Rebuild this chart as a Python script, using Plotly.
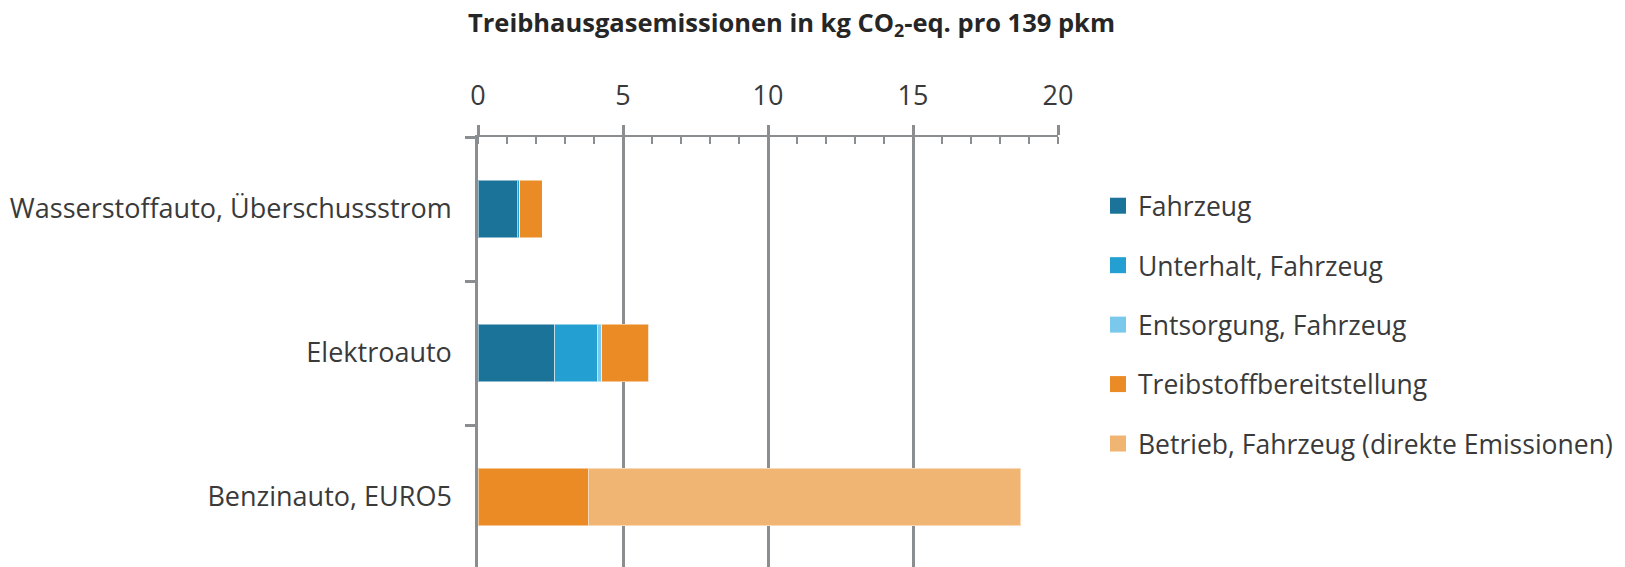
import plotly.graph_objects as go

categories = ["Wasserstoffauto, Überschussstrom", "Elektroauto", "Benzinauto, EURO5"]
series_names = ["Fahrzeug", "Unterhalt, Fahrzeug", "Entsorgung, Fahrzeug",
                "Treibstoffbereitstellung", "Betrieb, Fahrzeug (direkte Emissionen)"]
fahrzeug = [1.36, 2.65, 0.0]
unterhalt = [0.07, 1.47, 0.0]
entsorgung = [0.01, 0.15, 0.0]
treibstoff = [0.78, 1.61, 3.80]
betrieb = [0.0, 0.0, 14.91]
colors = ["#1b7399", "#249fd1", "#7ac9ec", "#eb8b25", "#f0b573"]
x_ticks = [0, 5, 10, 15, 20]

values = [fahrzeug, unterhalt, entsorgung, treibstoff, betrieb]

FONT = "Open Sans"
TXT = "#3a3a3a"
AX = "#8b8e91"

# the page body has a default 8px margin; compensate so the figure fills the window
OFF = 8
W, H = 1625 - OFF, 567 - OFF
L, T = 478 - OFF, 137 - OFF
PW = 580

fig = go.Figure()
for name, vals, col in zip(series_names, values, colors):
    fig.add_trace(go.Bar(
        y=categories, x=vals, name=name, orientation="h",
        marker=dict(color=col, line=dict(color="rgba(255,255,255,0.5)", width=1)),
        width=0.40, showlegend=False, legendgroup=name,
    ))
for name, col in zip(series_names, colors):
    fig.add_trace(go.Scatter(
        x=[None], y=[None], mode="markers", name=name, legendgroup=name,
        marker=dict(symbol="square", size=16, color=col), showlegend=True,
    ))

fig.update_layout(
    barmode="stack",
    width=W, height=H,
    margin=dict(l=L, r=W - L - PW, t=T, b=0, pad=0, autoexpand=False),
    paper_bgcolor="white", plot_bgcolor="white",
    font=dict(family=FONT, size=27, color=TXT),
    title=dict(
        text="<b>Treibhausgasemissionen in kg CO<sub>2</sub>-eq. pro 139 pkm</b>",
        x=(468 - OFF) / W, xanchor="left", y=1 - (23 - OFF) / H, yanchor="middle",
        font=dict(family=FONT, size=25.5, color="#262626"),
    ),
    legend=dict(
        xref="container", x=(1098 - OFF) / W, xanchor="left",
        y=1 - (204 - 137 - 22) / (H - T), yanchor="top",
        font=dict(family=FONT, size=26.5, color=TXT),
        traceorder="grouped", tracegroupgap=22, itemsizing="trace",
        bgcolor="rgba(0,0,0,0)", borderwidth=0,
    ),
    xaxis=dict(
        side="top", range=[0, 20], tickvals=x_ticks, ticktext=[str(v) for v in x_ticks],
        showline=True, linecolor=AX, linewidth=2,
        ticks="outside", ticklen=10, tickwidth=2.5, tickcolor=AX,
        showgrid=True, gridcolor=AX, gridwidth=2.5, zeroline=False,
        minor=dict(dtick=1, ticks="inside", ticklen=7, tickwidth=2, tickcolor=AX, showgrid=False),
        ticklabelstandoff=9,
        tickfont=dict(family=FONT, size=27, color=TXT),
    ),
    yaxis=dict(
        type="category", categoryorder="array", categoryarray=categories,
        range=[2.486, -0.5],
        showline=True, linecolor=AX, linewidth=2.5,
        ticks="outside", ticklen=10, tickwidth=2.5, tickcolor=AX, tickson="boundaries",
        showgrid=False, zeroline=False,
        ticklabelstandoff=18,
        tickfont=dict(family=FONT, size=27, color=TXT),
    ),
)

fig.write_html("out.html")
